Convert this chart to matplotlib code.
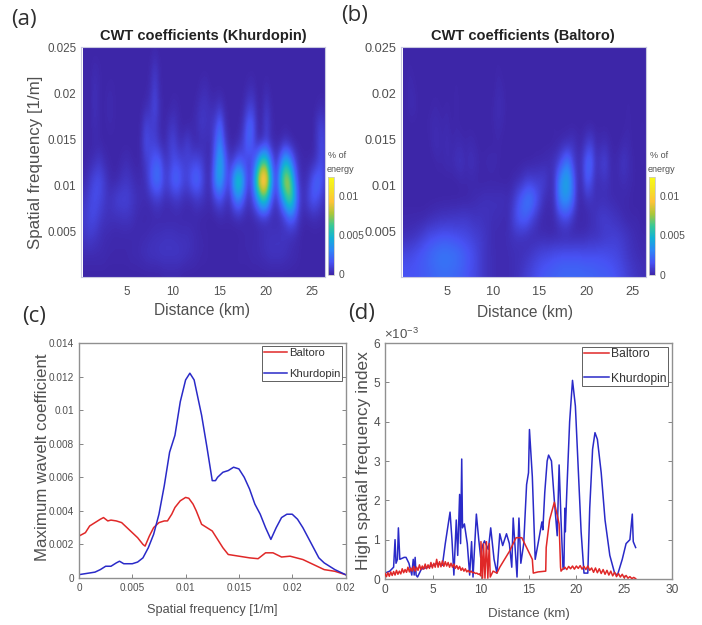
import numpy as np
import matplotlib
matplotlib.use('Agg')
import matplotlib.pyplot as plt
from matplotlib.colors import LinearSegmentedColormap

plt.rcParams['font.family'] = ['Liberation Sans', 'DejaVu Sans']
plt.rcParams['mathtext.fontset'] = 'custom'
plt.rcParams['mathtext.rm'] = 'Liberation Sans'

W, H = 702, 625
GREY = '#505050'

# heat map grids, in units of 1e-4
# rows run top to bottom, columns are every 0.5 km starting at 0.5 km
grid_distance = np.arange(0.5, 27.0, 0.5)
grid_freq = [0.0245, 0.0225, 0.0205, 0.0185, 0.0165, 0.0145, 0.0125,
             0.0105, 0.0085, 0.0065, 0.0045, 0.0025, 0.0005]

khurdopin_energy = [
    [0,0,0,0,0,0,0,0,0,0, 0,0,0,0,0,1,0,0,0,0, 0,0,0,0,0,0,0,0,0,0, 0,0,0,0,0,0,0,0,0,0, 0,0,0,0,0,0,0,0,0,0, 0,0,0],
    [0,0,2,1,0,0,0,0,0,0, 0,0,0,0,1,7,1,0,0,0, 0,0,0,0,0,0,0,0,0,0, 0,0,0,0,0,0,0,0,0,0, 0,0,0,0,0,0,0,0,0,0, 0,0,0],
    [0,0,4,1,0,1,1,0,0,0, 0,0,0,0,2,10,1,0,0,0, 0,0,0,0,0,2,3,0,0,0, 0,0,0,0,0,2,3,0,0,2, 0,0,0,0,0,0,0,0,0,0, 0,0,0],
    [0,0,4,1,0,2,1,0,0,0, 0,0,0,2,5,13,3,0,0,2, 1,0,0,0,2,5,5,3,3,6, 1,0,0,0,1,8,9,1,0,7, 1,0,0,0,0,0,0,0,0,0, 1,2,0],
    [0,0,3,1,0,1,1,0,0,0, 0,0,1,11,8,8,2,0,4,6, 2,0,0,1,3,7,5,5,10,24, 4,0,0,0,5,21,20,2,1,11, 2,0,0,0,0,0,0,0,0,0, 7,11,3],
    [0,0,1,1,0,0,0,0,0,0, 0,0,2,14,10,10,4,1,7,11, 4,4,10,3,1,2,3,2,17,33, 10,1,0,3,10,22,16,3,3,9, 2,1,1,5,2,0,0,0,0,0, 6,14,5],
    [0,2,4,7,3,1,0,0,2,3, 1,0,1,7,13,20,20,7,7,14, 13,10,9,11,13,10,3,3,24,48, 24,7,10,20,14,10,12,34,68,64, 26,5,24,50,38,14,3,1,1,2, 8,14,5],
    [2,7,13,14,9,3,1,2,5,6, 4,2,2,4,16,25,24,11,12,22, 22,13,11,20,24,16,4,5,34,44, 22,11,46,66,42,10,20,75,110,104, 50,9,52,86,78,34,6,2,6,18, 24,17,5],
    [6,11,14,12,8,5,7,10,10,10, 7,4,3,2,3,7,7,3,3,5, 6,3,2,3,6,5,3,2,9,14, 7,4,20,30,16,4,11,30,58,54, 18,5,20,50,72,46,12,4,11,18, 14,7,2],
    [8,12,12,8,5,4,4,4,5,5, 4,2,1,1,1,1,1,1,1,1, 1,1,1,1,1,0,0,0,0,1, 1,1,1,2,1,1,1,2,3,3, 2,2,3,8,18,16,5,1,1,2, 2,1,0],
    [6,8,6,4,2,2,1,1,1,1, 1,1,2,2,3,4,4,5,5,5, 4,4,4,3,2,1,1,0,0,0, 0,0,0,0,1,1,1,2,3,4, 5,5,5,5,3,2,1,0,0,0, 0,0,0],
    [2,2,2,2,2,1,1,1,1,1, 2,2,3,4,5,5,6,6,6,6, 6,5,4,3,2,1,1,0,0,0, 0,0,0,1,1,1,2,2,3,4, 5,5,5,4,3,2,1,0,0,0, 0,0,0],
    [0,0,0,0,0,0,0,0,0,0, 0,0,0,0,0,0,0,1,1,1, 1,0,0,0,0,0,0,0,0,0, 0,0,0,0,0,0,0,0,0,0, 0,0,0,0,0,0,0,0,0,0, 0,0,0],
]

baltoro_energy = [
    [0,0,0,0,0,0,0,0,0,0, 0,0,0,0,0,0,0,0,0,0, 0,0,0,0,0,0,0,0,0,0, 0,0,0,0,0,0,0,0,0,0, 0,0,0,0,0,0,0,0,0,0, 0,0,0],
    [0,1,0,0,0,0,0,0,0,0, 0,0,0,0,0,0,0,0,0,0, 1,0,0,0,0,0,0,0,0,0, 0,0,0,0,0,0,0,0,0,0, 0,0,0,0,0,0,0,0,0,0, 0,0,0],
    [0,2,1,0,0,0,0,0,0,0, 0,1,0,0,0,0,0,0,0,0, 2,1,0,0,0,0,0,0,0,0, 0,0,0,0,0,0,0,0,0,0, 0,0,0,0,0,0,0,0,0,0, 0,0,0],
    [0,2,2,0,0,0,1,1,0,1, 0,1,0,0,0,0,0,0,0,1, 3,2,0,0,0,0,0,0,0,0, 0,0,0,0,0,0,0,0,0,0, 0,0,0,0,0,0,0,0,1,0, 0,0,0],
    [0,0,0,0,0,1,2,2,1,2, 0,1,0,0,0,0,0,0,0,1, 2,1,0,0,0,0,0,0,0,0, 0,0,1,0,0,0,0,0,0,0, 0,0,0,0,0,0,0,0,1,0, 0,1,0],
    [0,0,0,0,0,0,2,3,1,3, 1,2,2,1,2,1,0,0,0,0, 1,0,0,0,0,0,0,0,0,0, 0,0,0,1,2,3,5,2,1,7, 10,2,2,3,1,0,0,2,2,0, 0,1,0],
    [0,0,0,0,0,0,0,1,1,2, 2,4,5,2,4,3,1,1,2,2, 1,0,0,0,0,0,0,0,1,1, 2,3,5,9,20,28,12,3,6,21, 22,5,7,11,3,1,3,6,3,1, 0,1,0],
    [0,0,0,0,0,0,0,0,0,0, 0,0,1,1,1,1,0,0,0,0, 0,0,0,1,2,4,8,9,8,9, 9,3,5,28,42,44,26,4,3,19, 13,3,4,5,3,1,2,3,2,1, 0,0,0],
    [0,0,0,0,0,0,0,0,0,0, 0,0,0,0,1,2,3,4,4,4, 4,4,3,5,13,20,27,28,20,11, 3,2,4,26,36,35,24,4,1,4, 5,3,3,3,2,2,1,1,1,0, 0,0,0],
    [1,1,1,1,1,2,3,4,5,5, 6,6,7,7,6,5,5,4,4,3, 3,2,2,8,16,20,20,13,7,2, 1,1,2,7,12,12,5,1,1,1, 3,5,8,8,7,5,4,2,1,1, 1,0,0],
    [3,4,5,7,10,13,14,15,16,16, 15,14,13,12,11,9,8,6,4,2, 2,2,3,4,5,4,3,2,2,2, 2,1,1,1,1,1,1,2,2,3, 4,4,5,7,8,9,8,7,5,3, 2,1,1],
    [12,13,15,17,19,21,24,26,27,27, 26,25,22,19,16,13,9,6,4,3, 2,2,2,3,3,4,5,7,9,11, 12,13,15,15,16,16,16,16,15,15, 15,15,15,14,13,12,11,8,6,4, 3,2,2],
    [16,16,16,17,18,19,21,22,23,23, 22,21,19,17,14,12,9,6,4,3, 2,2,2,3,4,6,9,11,14,16, 18,19,20,21,22,22,22,22,22,21, 21,20,19,19,18,16,14,12,9,7, 5,4,3],
]

# panel (c)
c_baltoro_x = [0, .0003, .0006, .001, .0015, .002, .0023, .0027, .003, .0035, .004, .0045, .005, .0055, .006, .0062,
               .0066, .007, .0075, .008, .0083, .0087, .009, .0095, .01, .0103, .0107, .011, .0115, .012, .0125, .013,
               .0135, .014, .015, .016, .0168, .0175, .0182, .019, .0198, .021, .022, .023, .024, .025]
c_baltoro_y = [.0025, .0026, .0027, .0031, .0033, .0035, .0036, .0034, .00345, .0034, .0033, .003, .0027, .0024, .002, .0019,
               .0025, .003, .0033, .0034, .0034, .0038, .0042, .0046, .0048, .00475, .0044, .004, .0032, .003, .0028, .0023,
               .0018, .0014, .0013, .0012, .00115, .0015, .0015, .00125, .0013, .0011, .0008, .0005, .0004, .0002]
c_khurdopin_x = [0, .0005, .001, .0015, .002, .0025, .003, .0035, .0038, .0042, .005, .0055, .006, .0065, .007, .0075,
                 .008, .0085, .009, .0095, .01, .0104, .0108, .011, .0115, .012, .0125, .0128, .013, .0135, .014, .0145,
                 .015, .0155, .016, .0165, .017, .0175, .018, .0185, .019, .0195, .02, .0205, .021, .0215, .022, .0225,
                 .023, .024, .025]
c_khurdopin_y = [.0002, .00025, .0003, .00035, .0005, .0007, .0007, .0009, .001, .00085, .00085, .00095, .0012, .0018, .0026, .0038,
                 .0055, .0075, .0085, .0105, .0118, .0122, .0118, .0112, .0097, .0078, .0058, .0058, .006, .0063, .0064, .0066,
                 .0065, .006, .0053, .0044, .0038, .003, .0023, .003, .0036, .0038, .0038, .0035, .003, .0024, .0018, .0012,
                 .0009, .0005, .0002]

# panel (d), y in units of 1e-3
d_khurdopin_x = [0, .5, .9, 1.05, 1.15, 1.3, 1.4, 1.55, 2, 2.2, 2.5, 2.8, 2.95, 3.05, 3.15, 3.25, 3.4, 3.8, 4.5, 5, 5.5, 6,
                 6.3, 6.8, 7, 7.2, 7.45, 7.6, 7.8, 7.9, 8.02, 8.1, 8.3, 8.6, 8.85, 9.05, 9.2, 9.55, 9.8, 10, 10.2, 10.4,
                 10.8, 11.05, 11.4, 11.7, 12, 12.3, 12.7, 13, 13.25, 13.4, 13.8, 14, 14.2, 14.5, 14.8, 15, 15.1, 15.4, 15.7,
                 16, 16.4, 16.5, 16.7, 16.95, 17.1, 17.4, 17.7, 18, 18.2, 18.4, 18.6, 18.7, 18.8, 18.85, 19, 19.3, 19.6, 19.9, 20.2, 20.5, 20.8,
                 21.2, 21.4, 21.7, 21.95, 22.2, 22.6, 23, 23.5, 24, 24.3, 24.8, 25.2, 25.6, 25.85, 25.95, 26.2]
d_khurdopin_y = [.15, .2, .3, 1.0, .4, .5, 1.3, .5, .55, .55, .4, .1, .5, .1, .55, .1, .05, .25, .3, .35, .4, .35,
                 .9, 1.7, 1.0, .1, 1.5, .6, 2.15, .9, 3.05, 1.3, 1.4, .9, .1, .95, .05, 1.65, 1.0, .55, .85, .97,
                 .75, 1.3, .5, .15, 1.15, .85, 1.15, .9, .3, 1.55, .05, 1.55, .4, .9, 2.4, 2.7, 3.8, 2.6, .5,
                 .9, 1.45, 1.25, 2.2, 3.0, 3.15, 3.0, 2.0, 1.1, 2.9, 1.5, .3, .25, 1.8, 1.2, 2.2, 4.0, 5.05, 4.4, 2.8, 1.2, .15,
                 .15, 1.8, 3.3, 3.72, 3.55, 2.7, 1.5, .6, .15, .1, .5, .9, 1.0, 1.65, .95, .8]
d_baltoro_x = [0, .15, .3, .45, .6, .75, .9, 1.05, 1.2, 1.35, 1.5, 1.65, 1.8, 1.95, 2.1, 2.25, 2.4, 2.55, 2.7, 2.85,
               3, 3.15, 3.3, 3.45, 3.6, 3.75, 3.9, 4.05, 4.2, 4.35, 4.5, 4.65, 4.8, 4.95, 5.1, 5.25, 5.4, 5.55, 5.7, 5.85,
               6, 6.15, 6.3, 6.45, 6.6, 6.75, 6.9, 7.05, 7.2, 7.35, 7.5, 7.65, 7.8, 7.95, 8.1, 8.25, 8.4, 8.55, 8.7, 8.85,
               9, 9.15, 9.3, 9.45, 9.6, 9.75, 9.9,
               10, 10.03, 10.2, 10.3, 10.45, 10.6, 10.75, 10.9, 11,
               11.3, 11.7, 12, 13, 13.7, 14.3, 15, 15.4, 15.5, 16, 16.8, 16.85, 17.2, 17.7, 18.2, 18.35, 18.4,
               18.6, 18.8, 19, 19.2, 19.4, 19.6, 19.8, 20, 20.2, 20.4, 20.6, 20.8, 21, 21.2, 21.4, 21.6, 21.8, 22, 22.2, 22.4,
               22.6, 22.8, 23, 23.2, 23.4, 23.6, 23.8, 24, 24.2, 24.4, 24.6, 24.8, 25, 25.2, 25.4, 25.6, 25.8, 26, 26.2]
d_baltoro_y = [.14, .06, .16, .07, .18, .09, .19, .1, .22, .12, .2, .13, .26, .16, .24, .17, .3, .18, .28, .2,
               .32, .2, .3, .22, .36, .24, .33, .25, .38, .26, .36, .27, .42, .28, .4, .3, .5, .3, .44, .31,
               .46, .32, .44, .33, .42, .3, .4, .3, .38, .27, .34, .25, .32, .22, .28, .2, .26, .18, .22, .17,
               .2, .16, .17, .14, .15, .12, .13,
               .08, .95, .02, .9, .02, .95, .02, .9, .05,
               .2, .15, .3, .7, 1.05, 1.05, .7, .5, .15, .18, .2, .8, 1.5, 1.95, 1.4, .3, .2,
               .26, .3, .24, .32, .26, .33, .25, .33, .27, .34, .25, .32, .24, .33, .22, .28, .17, .28, .16, .26,
               .14, .24, .12, .22, .1, .2, .08, .17, .06, .14, .05, .12, .03, .09, .02, .06, .01, .04, .01]

ticks_heat_x = [5, 10, 15, 20, 25]
ticks_heat_y = [0.005, 0.01, 0.015, 0.02, 0.025]
labels_heat_y = ['0.005', '0.01', '0.015', '0.02', '0.025']
ticks_c_x = [0, .005, .01, .015, .02, .025]
labels_c_x = ['0', '0.005', '0.01', '0.015', '0.02', '0.02']
ticks_c_y = [0, .002, .004, .006, .008, .01, .012, .014]
labels_c_y = ['0', '0.002', '0.004', '0.006', '0.008', '0.01', '0.012', '0.014']
ticks_d_x = [0, 5, 10, 15, 20, 25, 30]
ticks_d_y = [0, 1, 2, 3, 4, 5, 6]

# parula is not in matplotlib, anchors typed by hand
parula = LinearSegmentedColormap.from_list('parula', [
    (0.2422, 0.1504, 0.6603), (0.2810, 0.3228, 0.9579), (0.1786, 0.5289, 0.9682),
    (0.0689, 0.6948, 0.8394), (0.2161, 0.7843, 0.5923), (0.6720, 0.7793, 0.2227),
    (0.9970, 0.7659, 0.2199), (0.9600, 0.8900, 0.1500), (0.9769, 0.9839, 0.0805)])


def px_axes(fig, left, top, right, bottom):
    # axes position given in image pixels
    return fig.add_axes([left / W, 1 - bottom / H, (right - left) / W, (bottom - top) / H])


def px_text(fig, x, y, s, **kw):
    kw.setdefault('ha', 'center')
    kw.setdefault('va', 'center')
    kw.setdefault('color', GREY)
    return fig.text(x / W, 1 - y / H, s, **kw)


def heat_panel(fig, box, cbox, energy, title, title_x, tick_size):
    ax = px_axes(fig, *box)
    dx = grid_distance[1] - grid_distance[0]
    extent = [grid_distance[0] - dx / 2, grid_distance[-1] + dx / 2, 0.0005 - 0.001, 0.0245 + 0.001]
    im = ax.imshow(np.array(energy) * 1e-4, extent=extent, origin='upper', aspect='auto',
                   cmap=parula, vmin=0, vmax=0.0124, interpolation='bicubic')
    ax.set_xlim(0.08, 26.4)
    ax.set_ylim(0.0001, 0.025)
    ax.set_xticks(ticks_heat_x)
    ax.set_yticks(ticks_heat_y, labels_heat_y)
    ax.tick_params(length=0, labelsize=tick_size, labelcolor=GREY)
    ax.tick_params(axis='x', pad=6.5)
    ax.tick_params(axis='y', pad=3.5)
    for s in ax.spines.values():
        s.set_color('#c8c8e0')
        s.set_linewidth(0.8)
    px_text(fig, title_x, 36, title, fontsize=10.5, fontweight='bold', color='#222222')

    cax = px_axes(fig, *cbox)
    cb = fig.colorbar(im, cax=cax)
    cb.set_ticks([0, 0.005, 0.01], labels=['0', '0.005', '0.01'])
    cb.ax.tick_params(length=0, labelsize=7.5, labelcolor=GREY, pad=3)
    cb.outline.set_edgecolor('#c8c8c8')
    cb.outline.set_linewidth(0.6)
    px_text(fig, cbox[0] + 1, 155, '% of', fontsize=6.5, ha='left')
    px_text(fig, cbox[0] - 1, 169, 'energy', fontsize=6.5, ha='left')
    return ax


def line_panel(fig, box, baltoro, khurdopin, lw, legend_size, red_on_top):
    ax = px_axes(fig, *box)
    ax.plot(baltoro[0], baltoro[1], color='#e02828', lw=lw, label='Baltoro', zorder=3 if red_on_top else 2)
    ax.plot(khurdopin[0], khurdopin[1], color='#2a2ac8', lw=lw, label='Khurdopin', zorder=2.5)
    ax.tick_params(direction='in', top=False, right=True, length=3, width=0.6,
                   color='#707070', labelcolor=GREY)
    for s in ax.spines.values():
        s.set_color('#909090')
        s.set_linewidth(1.0)
    leg = ax.legend(loc='upper right', fontsize=legend_size, fancybox=False, framealpha=1, borderaxespad=0.3,
                    handlelength=2.1, handletextpad=0.15, labelspacing=1.0, borderpad=0.15,
                    edgecolor='#606060', labelcolor='#333333')
    leg.get_frame().set_linewidth(0.7)
    return ax


fig = plt.figure(figsize=(W / 100, H / 100), dpi=100, facecolor='white')

heat_panel(fig, (81, 47, 325, 277), (327.5, 177, 334, 274.5), khurdopin_energy,
           'CWT coefficients (Khurdopin)', 203, 8.4)
px_text(fig, 36, 162, 'Spatial frequency [1/m]', fontsize=12.2, rotation=90)
px_text(fig, 202, 310, 'Distance (km)', fontsize=11.2)

heat_panel(fig, (401, 47, 645.5, 277), (648.5, 177, 655, 275), baltoro_energy,
           'CWT coefficients (Baltoro)', 523, 9.2)
px_text(fig, 525, 312, 'Distance (km)', fontsize=11.2)

ax_c = line_panel(fig, (79, 343, 345.5, 578), (c_baltoro_x, c_baltoro_y), (c_khurdopin_x, c_khurdopin_y), 1.1, 8.1, False)
ax_c.set_xlim(0, 0.025)
ax_c.set_ylim(0, 0.014)
ax_c.set_xticks(ticks_c_x, labels_c_x)
ax_c.set_yticks(ticks_c_y, labels_c_y)
ax_c.tick_params(labelsize=7.2)
px_text(fig, 43, 457, 'Maximum wavelt coefficient', fontsize=12.2, rotation=90)
px_text(fig, 212, 610, 'Spatial frequency [1/m]', fontsize=9.2)

ax_d = line_panel(fig, (385, 343, 672, 579), (d_baltoro_x, d_baltoro_y), (d_khurdopin_x, d_khurdopin_y), 1.1, 8.7, True)
ax_d.set_xlim(0, 30)
ax_d.set_ylim(0, 6)
ax_d.set_xticks(ticks_d_x)
ax_d.set_yticks(ticks_d_y)
ax_d.tick_params(labelsize=8.6)
px_text(fig, 363, 461, 'High spatial frequency index', fontsize=12.5, rotation=90)
px_text(fig, 529, 614, 'Distance (km)', fontsize=9.5)
px_text(fig, 401, 334, r'$\times10^{-3}$', fontsize=9.5)

# panel letters sit outside the axes
for letter, x, y in [('(a)', 24, 19), ('(b)', 355, 15), ('(c)', 34, 316), ('(d)', 362, 313)]:
    px_text(fig, x, y, letter, fontsize=16, color='#303030', family=['Open Sans', 'DejaVu Sans'])

fig.savefig('out.png', dpi=100)
